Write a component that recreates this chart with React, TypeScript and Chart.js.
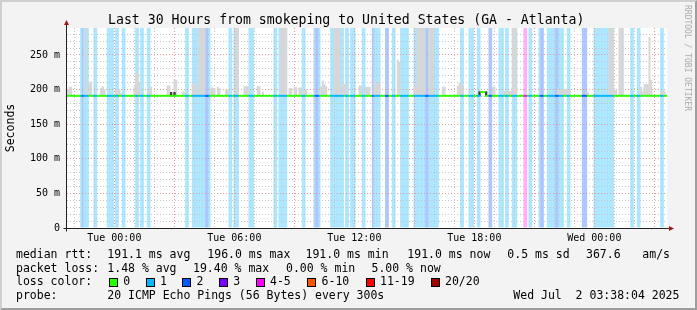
import React, { useEffect, useRef } from 'react';
import { Chart, registerables } from 'chart.js';

Chart.register(...registerables);

// ---------- data (5-minute slots, 30 hours = 360 slots) ----------
const SLOT_COUNT = 360;
const START_MINUTE_OF_DAY = 21 * 60 + 38 + 4 / 60; // Mon 21:38:04
const SPAN_MINUTES = 1800;
const Y_MAX = 289; // ms
const MEDIAN_BASE = 191; // ms

// [firstSlot, lastSlot, lossLevel]
const lossRuns = [
  [8, 8, 1], [9, 9, 2], [10, 12, 1], [16, 17, 1], [24, 27, 1], [29, 30, 1], [33, 34, 1],
  [41, 42, 1], [44, 45, 1], [48, 49, 1], [71, 72, 1], [75, 82, 1], [83, 84, 2], [85, 85, 1],
  [97, 98, 1], [100, 102, 1], [109, 111, 1], [124, 125, 1], [127, 131, 1], [141, 142, 1],
  [148, 148, 1], [149, 150, 2], [151, 151, 1], [158, 165, 1], [167, 168, 1], [170, 172, 1],
  [177, 178, 1], [183, 183, 2], [184, 187, 1], [191, 192, 2], [195, 196, 1], [200, 204, 1],
  [208, 214, 1], [215, 216, 2], [217, 222, 1], [236, 237, 1], [241, 243, 1], [246, 247, 1],
  [253, 254, 2], [259, 261, 1], [263, 264, 1], [267, 269, 1], [274, 275, 4], [277, 278, 1],
  [283, 283, 1], [284, 285, 2], [288, 291, 1], [292, 292, 1], [293, 294, 2], [295, 297, 1],
  [300, 301, 1], [309, 311, 2], [316, 327, 1], [338, 339, 1], [342, 343, 1], [356, 357, 1],
];

// slots whose smoke reaches above the top of the graph
const tallSmokeSlots = [
  11, 79, 80, 81, 82, 101, 102, 128, 129, 130, 131, 160, 161, 162, 163,
  210, 211, 212, 213, 214, 217, 218, 219, 267, 268, 269, 325, 326, 327, 331, 332, 333,
];

// [slot, max ping ms]
const smokeSpikes = [
  [0, 200], [1, 204], [2, 204], [13, 210], [14, 212], [20, 202], [21, 205], [22, 200],
  [29, 200], [30, 200], [31, 200], [32, 195], [40, 205], [41, 222], [42, 224], [43, 210],
  [49, 204], [50, 204], [60, 206], [61, 206], [64, 215], [65, 214], [69, 197], [70, 197],
  [75, 208], [76, 208], [77, 208], [86, 203], [87, 203], [88, 202], [90, 204], [91, 202],
  [95, 200], [96, 200], [106, 205], [107, 205], [108, 205], [114, 205], [115, 205], [117, 197],
  [133, 202], [134, 202], [136, 204], [137, 204], [139, 203], [140, 203], [142, 200], [143, 200],
  [152, 205], [153, 213], [154, 208], [155, 205], [165, 208], [166, 208], [167, 208], [175, 206],
  [176, 206], [179, 204], [180, 204], [181, 204], [184, 216], [185, 206], [186, 210], [187, 210],
  [198, 243], [199, 240], [208, 205], [209, 205], [225, 204], [226, 204], [234, 205], [235, 210],
  [236, 210], [237, 205], [255, 204], [256, 204], [262, 198], [263, 198], [264, 198], [265, 198],
  [266, 198], [275, 200], [294, 200], [295, 200], [296, 200], [297, 200], [298, 200], [299, 200],
  [300, 200], [301, 200], [311, 196], [312, 196], [328, 200], [329, 200], [344, 204], [345, 197],
  [346, 208], [347, 208], [348, 208], [349, 276], [350, 214], [356, 198], [357, 198], [358, 198],
];

// dense (dark) smoke right around the median: [slot, top ms]
const darkSmoke = [[62, 196], [64, 196], [247, 197], [251, 197]];

// median differs from the base value in these slots: [slot, median ms]
const medianBumps = [[248, 196.5], [249, 196.5], [250, 196.5]];

const lossLineColors = { 0: '#26ff00', 1: '#00b8ff', 2: '#0059ff', 3: '#7a00ff', 4: '#ff00ff' };
const lossBgColors = { 1: '#aae6ff', 2: '#aac5ff', 3: '#d3aaff', 4: '#ffaaff' };

const lossLegend = [
  ['0', '#26ff00'], ['1', '#00b8ff'], ['2', '#0059ff'], ['3', '#7a00ff'],
  ['4-5', '#ff00ff'], ['6-10', '#ff5500'], ['11-19', '#ff0000'], ['20/20', '#a10000'],
];

const titleText = 'Last 30 Hours from smokeping to United States (GA - Atlanta)';
const rttRow = ['median rtt:', '191.1 ms avg', '196.0 ms max', '191.0 ms min', '191.0 ms now', '0.5 ms sd', '367.6', 'am/s'];
const lossRow = ['packet loss:', '1.48 % avg', '19.40 % max', '0.00 % min', '5.00 % now'];
const probeRow = ['probe:', '20 ICMP Echo Pings (56 Bytes) every 300s', 'Wed Jul  2 03:38:04 2025'];
const dayNames = ['Mon', 'Tue', 'Wed'];

// ---------- layout (not data) ----------
const rttX = [16, 107.3, 207.3, 305.5, 407.3, 507.3, 586, 642.3];
const lossX = [16, 107.3, 193, 286, 371.5];
const probeX = [16, 107.3, 513.3];
const legendBoxX = [109, 145.7, 182.3, 219, 255.7, 307.3, 365.7, 430.7];
const LEG_FS = 11.5;

function lossLevel(i: number): number {
  for (const r of lossRuns) if (i >= r[0] && i <= r[1]) return r[2];
  return 0;
}

function Txt(props: { x: number; base: number; fs: number; color?: string; children: any }) {
  const { x, base, fs, color, children } = props;
  return (
    <div
      style={{
        position: 'absolute',
        left: x,
        top: base - 0.928 * fs,
        fontSize: fs,
        lineHeight: `${1.164 * fs}px`,
        whiteSpace: 'pre',
        color: color || '#000',
      }}
    >
      {children}
    </div>
  );
}

export default function App() {
  const canvasRef = useRef<HTMLCanvasElement | null>(null);

  useEffect(() => {
    document.body.style.margin = '0';
    const canvas = canvasRef.current;
    if (!canvas) return;

    const slots = Array.from({ length: SLOT_COUNT }, (_, i) => i);
    const levels = slots.map((i) => lossLevel(i));
    const spikeMap = new Map(smokeSpikes.map((s) => [s[0], s[1]]));
    const darkMap = new Map(darkSmoke.map((s) => [s[0], s[1]]));
    const bumpMap = new Map(medianBumps.map((s) => [s[0], s[1]]));
    const tallSet = new Set(tallSmokeSlots);

    const lossData = slots.map((i) => (levels[i] > 0 ? [0, Y_MAX] : null));
    const smokeData = slots.map((i) =>
      tallSet.has(i) ? [MEDIAN_BASE, Y_MAX] : spikeMap.has(i) ? [MEDIAN_BASE, spikeMap.get(i)] : null
    );
    const darkData = slots.map((i) => (darkMap.has(i) ? [MEDIAN_BASE, darkMap.get(i)] : null));
    const medianData = slots.map((i) => {
      const m = bumpMap.has(i) ? bumpMap.get(i) : MEDIAN_BASE;
      return [m - 1.4, m + 1.4];
    });

    const hourTicks: number[] = [];
    for (let k = 0; k < 80; k++) {
      const t = k * 60 - START_MINUTE_OF_DAY;
      if (t > 0 && t < SPAN_MINUTES) hourTicks.push(t);
    }
    const hourOf = (v: number) => Math.round((v + START_MINUTE_OF_DAY) / 60);

    const MAJOR = '#dc9a9a';
    const MINOR = '#c4c4c4';
    const tickFont = { family: "'DejaVu Sans Mono', monospace", size: 10 };

    const gridOnLoss = {
      id: 'gridOnLoss',
      beforeDraw(chart: any) {
        const a = chart.chartArea;
        const ctx = chart.ctx;
        ctx.save();
        ctx.fillStyle = '#ffffff';
        ctx.fillRect(a.left, a.top, a.right - a.left, a.bottom - a.top);
        ctx.restore();
      },
      afterDatasetDraw(chart: any, args: any) {
        if (args.index !== 0) return;
        chart.scales.y.drawGrid(chart.chartArea);
        chart.scales.xt.drawGrid(chart.chartArea);
      },
      afterDraw(chart: any) {
        const a = chart.chartArea;
        const ctx = chart.ctx;
        ctx.save();
        ctx.strokeStyle = '#222';
        ctx.lineWidth = 1;
        ctx.beginPath();
        const bx = Math.round(a.left) - 0.5;
        const by = Math.round(a.bottom) + 0.5;
        ctx.moveTo(bx, by + 3);
        ctx.lineTo(bx, a.top - 4);
        ctx.moveTo(bx - 3, by);
        ctx.lineTo(a.right + 4, by);
        ctx.stroke();
        ctx.fillStyle = '#a01818';
        ctx.beginPath();
        ctx.moveTo(bx - 2.5, a.top - 3);
        ctx.lineTo(bx, a.top - 8);
        ctx.lineTo(bx + 2.5, a.top - 3);
        ctx.closePath();
        ctx.fill();
        ctx.beginPath();
        ctx.moveTo(a.right + 2, by - 2.5);
        ctx.lineTo(a.right + 7, by);
        ctx.lineTo(a.right + 2, by + 2.5);
        ctx.closePath();
        ctx.fill();
        ctx.restore();
      },
    };

    const barCommon = {
      type: 'bar',
      xAxisID: 'x',
      yAxisID: 'y',
      grouped: false,
      categoryPercentage: 1,
      borderWidth: 0,
      borderSkipped: false,
    };

    const chart = new Chart(canvas, {
      type: 'bar',
      data: {
        labels: slots.map((i) => String(i)),
        datasets: [
          {
            ...barCommon,
            label: 'loss',
            data: lossData,
            barPercentage: 1.2,
            order: 4,
            backgroundColor: (c: any) => lossBgColors[levels[c.dataIndex]] || '#ffffff',
          },
          {
            ...barCommon,
            label: 'smoke',
            data: smokeData,
            barPercentage: 1.2,
            order: 3,
            backgroundColor: '#d6d6d6',
          },
          {
            ...barCommon,
            label: 'dense smoke',
            data: darkData,
            barPercentage: 1.0,
            order: 2,
            backgroundColor: '#3c3c3c',
          },
          {
            ...barCommon,
            label: 'median rtt',
            data: medianData,
            barPercentage: 1.2,
            order: 1,
            backgroundColor: (c: any) => lossLineColors[levels[c.dataIndex]] || '#26ff00',
          },
        ],
      } as any,
      options: {
        responsive: false,
        animation: false,
        devicePixelRatio: 1,
        layout: { padding: { left: 7, right: 30, top: 28, bottom: 62 } },
        plugins: { legend: { display: false }, tooltip: { enabled: false }, title: { display: false } },
        events: [],
        scales: {
          x: {
            type: 'category',
            display: false,
            offset: true,
            grid: { display: false },
          },
          xt: {
            type: 'linear',
            position: 'bottom',
            min: 0,
            max: SPAN_MINUTES,
            offset: false,
            afterBuildTicks: (s: any) => {
              s.ticks = hourTicks.map((v) => ({ value: v }));
            },
            afterFit: (s: any) => {
              s.height = 20;
            },
            grid: {
              offset: false,
              drawTicks: false,
              lineWidth: 1,
              color: (c: any) => (hourOf(c.tick.value) % 3 === 0 ? MAJOR : MINOR),
            },
            border: { display: false, dash: [1, 2] },
            ticks: {
              autoSkip: false,
              maxRotation: 0,
              padding: 4,
              color: '#000',
              font: tickFont,
              callback: (v: any) => {
                const k = hourOf(Number(v));
                if (k % 6 !== 0) return '';
                return `${dayNames[Math.floor(k / 24)]} ${String(k % 24).padStart(2, '0')}:00`;
              },
            },
          },
          y: {
            type: 'linear',
            min: 0,
            max: Y_MAX,
            afterBuildTicks: (s: any) => {
              const t = [];
              for (let v = 0; v < Y_MAX; v += 10) t.push({ value: v });
              s.ticks = t;
            },
            afterFit: (s: any) => {
              s.width = 60;
            },
            grid: {
              drawTicks: false,
              lineWidth: 1,
              color: (c: any) => (c.tick.value === 0 ? 'rgba(0,0,0,0)' : c.tick.value % 50 === 0 ? MAJOR : MINOR),
            },
            border: { display: false, dash: [1, 2] },
            ticks: {
              padding: 7,
              color: '#000',
              font: tickFont,
              autoSkip: false,
              callback: (v: any) => {
                const n = Number(v);
                if (n % 50 !== 0) return '';
                return n === 0 ? '0' : `${n} m`;
              },
            },
          },
        },
      } as any,
      plugins: [gridOnLoss],
    });

    return () => chart.destroy();
  }, []);

  return (
    <div
      style={{
        position: 'relative',
        width: 697,
        height: 310,
        background: '#f3f3f3',
        overflow: 'hidden',
        fontFamily: "'DejaVu Sans Mono', monospace",
      }}
    >
      <canvas ref={canvasRef} width={697} height={310} style={{ position: 'absolute', left: 0, top: 0 }} />

      <Txt x={108} base={24} fs={13.2}>{titleText}</Txt>

      <div
        style={{
          position: 'absolute',
          left: -40,
          top: 121,
          width: 100,
          height: 14,
          textAlign: 'center',
          fontSize: LEG_FS,
          lineHeight: '14px',
          transform: 'rotate(-90deg)',
          whiteSpace: 'pre',
          color: '#000',
        }}
      >
        Seconds
      </div>

      <div
        style={{
          position: 'absolute',
          left: 627,
          top: 53,
          width: 120,
          height: 10,
          textAlign: 'center',
          fontSize: 8,
          lineHeight: '10px',
          transform: 'rotate(90deg)',
          whiteSpace: 'pre',
          color: '#ababab',
        }}
      >
        RRDTOOL / TOBI OETIKER
      </div>

      {rttRow.map((s, i) => (
        <Txt key={'r' + i} x={rttX[i]} base={258.3} fs={LEG_FS}>{s}</Txt>
      ))}
      {lossRow.map((s, i) => (
        <Txt key={'l' + i} x={lossX[i]} base={272.2} fs={LEG_FS}>{s}</Txt>
      ))}
      <Txt x={16} base={286.1} fs={LEG_FS}>loss color:</Txt>
      {lossLegend.map(([lab, col], i) => (
        <React.Fragment key={'c' + i}>
          <div
            style={{
              position: 'absolute',
              left: legendBoxX[i],
              top: 277.5,
              width: 7,
              height: 7,
              background: col,
              border: '1px solid #000',
            }}
          />
          <Txt x={legendBoxX[i] + 14.3} base={286.1} fs={LEG_FS}>{lab}</Txt>
        </React.Fragment>
      ))}
      {probeRow.map((s, i) => (
        <Txt key={'p' + i} x={probeX[i]} base={300} fs={LEG_FS}>{s}</Txt>
      ))}

      <div
        style={{
          position: 'absolute',
          left: 0,
          top: 0,
          width: 697,
          height: 310,
          boxSizing: 'border-box',
          borderTop: '2px solid #cfcfcf',
          borderLeft: '2px solid #cfcfcf',
          borderRight: '2px solid #9e9e9e',
          borderBottom: '2px solid #9e9e9e',
          pointerEvents: 'none',
        }}
      />
    </div>
  );
}
